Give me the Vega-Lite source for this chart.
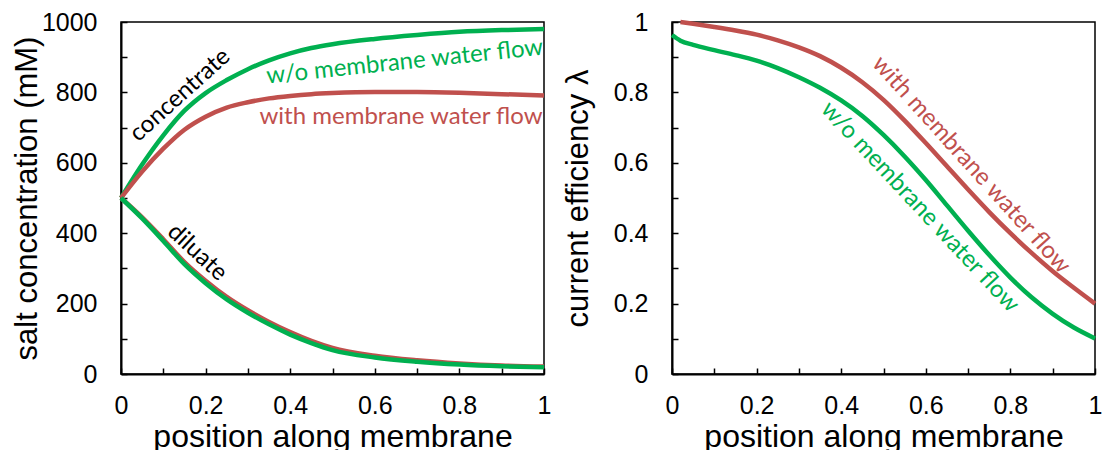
{
  "$schema": "https://vega.github.io/schema/vega-lite/v6.json",
  "padding": {"left": 10, "top": 9, "right": 5, "bottom": 5},
  "background": "white",
  "spacing": 7,
  "config": {
    "view": {"stroke": "black", "strokeWidth": 1.5},
    "axis": {
      "domainColor": "black", "domainWidth": 2,
      "tickColor": "black", "tickWidth": 1.5, "tickSize": -6,
      "labelFont": "Liberation Sans", "labelFontSize": 25, "labelColor": "black",
      "labelFlush": false, "labelOverlap": false, "labelBound": false,
      "titleFont": "Liberation Sans", "titleFontSize": 30, "titleFontWeight": "normal", "titleColor": "black",
      "grid": false
    },
    "axisY": {"titleFontSize": 31, "labelPadding": 30, "titleX": -94, "titleY": 176, "titleBaseline": "middle", "titleAngle": -90, "titleAlign": "center"},
    "axisX": {"titleFontSize": 32, "labelPadding": 25, "titleY": 72, "titleBaseline": "alphabetic", "titleX": 211.5, "titleAlign": "center"}
  },
  "datasets": {
    "conc": [
      {"pos": 0, "conc": 500, "flow": "w/o membrane water flow", "stream": "concentrate"},
      {"pos": 0.05, "conc": 595, "flow": "w/o membrane water flow", "stream": "concentrate"},
      {"pos": 0.1, "conc": 678, "flow": "w/o membrane water flow", "stream": "concentrate"},
      {"pos": 0.15, "conc": 748, "flow": "w/o membrane water flow", "stream": "concentrate"},
      {"pos": 0.2, "conc": 798, "flow": "w/o membrane water flow", "stream": "concentrate"},
      {"pos": 0.25, "conc": 835, "flow": "w/o membrane water flow", "stream": "concentrate"},
      {"pos": 0.3, "conc": 866, "flow": "w/o membrane water flow", "stream": "concentrate"},
      {"pos": 0.35, "conc": 891, "flow": "w/o membrane water flow", "stream": "concentrate"},
      {"pos": 0.4, "conc": 911, "flow": "w/o membrane water flow", "stream": "concentrate"},
      {"pos": 0.45, "conc": 926, "flow": "w/o membrane water flow", "stream": "concentrate"},
      {"pos": 0.5, "conc": 937, "flow": "w/o membrane water flow", "stream": "concentrate"},
      {"pos": 0.6, "conc": 952, "flow": "w/o membrane water flow", "stream": "concentrate"},
      {"pos": 0.7, "conc": 963, "flow": "w/o membrane water flow", "stream": "concentrate"},
      {"pos": 0.8, "conc": 972, "flow": "w/o membrane water flow", "stream": "concentrate"},
      {"pos": 0.9, "conc": 977, "flow": "w/o membrane water flow", "stream": "concentrate"},
      {"pos": 1.0, "conc": 980, "flow": "w/o membrane water flow", "stream": "concentrate"},
      {"pos": 0, "conc": 500, "flow": "with membrane water flow", "stream": "concentrate"},
      {"pos": 0.05, "conc": 575, "flow": "with membrane water flow", "stream": "concentrate"},
      {"pos": 0.1, "conc": 640, "flow": "with membrane water flow", "stream": "concentrate"},
      {"pos": 0.15, "conc": 694, "flow": "with membrane water flow", "stream": "concentrate"},
      {"pos": 0.2, "conc": 731, "flow": "with membrane water flow", "stream": "concentrate"},
      {"pos": 0.25, "conc": 757, "flow": "with membrane water flow", "stream": "concentrate"},
      {"pos": 0.3, "conc": 772, "flow": "with membrane water flow", "stream": "concentrate"},
      {"pos": 0.35, "conc": 783, "flow": "with membrane water flow", "stream": "concentrate"},
      {"pos": 0.4, "conc": 790, "flow": "with membrane water flow", "stream": "concentrate"},
      {"pos": 0.45, "conc": 795, "flow": "with membrane water flow", "stream": "concentrate"},
      {"pos": 0.5, "conc": 798, "flow": "with membrane water flow", "stream": "concentrate"},
      {"pos": 0.6, "conc": 801, "flow": "with membrane water flow", "stream": "concentrate"},
      {"pos": 0.7, "conc": 801, "flow": "with membrane water flow", "stream": "concentrate"},
      {"pos": 0.8, "conc": 799, "flow": "with membrane water flow", "stream": "concentrate"},
      {"pos": 0.9, "conc": 795, "flow": "with membrane water flow", "stream": "concentrate"},
      {"pos": 1.0, "conc": 791, "flow": "with membrane water flow", "stream": "concentrate"},
      {"pos": 0, "conc": 500, "flow": "with membrane water flow", "stream": "diluate"},
      {"pos": 0.05, "conc": 445, "flow": "with membrane water flow", "stream": "diluate"},
      {"pos": 0.1, "conc": 383, "flow": "with membrane water flow", "stream": "diluate"},
      {"pos": 0.15, "conc": 318, "flow": "with membrane water flow", "stream": "diluate"},
      {"pos": 0.2, "conc": 265, "flow": "with membrane water flow", "stream": "diluate"},
      {"pos": 0.25, "conc": 219, "flow": "with membrane water flow", "stream": "diluate"},
      {"pos": 0.3, "conc": 181, "flow": "with membrane water flow", "stream": "diluate"},
      {"pos": 0.35, "conc": 148, "flow": "with membrane water flow", "stream": "diluate"},
      {"pos": 0.4, "conc": 119, "flow": "with membrane water flow", "stream": "diluate"},
      {"pos": 0.45, "conc": 94, "flow": "with membrane water flow", "stream": "diluate"},
      {"pos": 0.5, "conc": 74, "flow": "with membrane water flow", "stream": "diluate"},
      {"pos": 0.6, "conc": 52, "flow": "with membrane water flow", "stream": "diluate"},
      {"pos": 0.7, "conc": 39, "flow": "with membrane water flow", "stream": "diluate"},
      {"pos": 0.8, "conc": 30, "flow": "with membrane water flow", "stream": "diluate"},
      {"pos": 0.9, "conc": 24, "flow": "with membrane water flow", "stream": "diluate"},
      {"pos": 1.0, "conc": 21, "flow": "with membrane water flow", "stream": "diluate"},
      {"pos": 0, "conc": 500, "flow": "w/o membrane water flow", "stream": "diluate"},
      {"pos": 0.05, "conc": 442, "flow": "w/o membrane water flow", "stream": "diluate"},
      {"pos": 0.1, "conc": 378, "flow": "w/o membrane water flow", "stream": "diluate"},
      {"pos": 0.15, "conc": 312, "flow": "w/o membrane water flow", "stream": "diluate"},
      {"pos": 0.2, "conc": 258, "flow": "w/o membrane water flow", "stream": "diluate"},
      {"pos": 0.25, "conc": 212, "flow": "w/o membrane water flow", "stream": "diluate"},
      {"pos": 0.3, "conc": 174, "flow": "w/o membrane water flow", "stream": "diluate"},
      {"pos": 0.35, "conc": 141, "flow": "w/o membrane water flow", "stream": "diluate"},
      {"pos": 0.4, "conc": 112, "flow": "w/o membrane water flow", "stream": "diluate"},
      {"pos": 0.45, "conc": 88, "flow": "w/o membrane water flow", "stream": "diluate"},
      {"pos": 0.5, "conc": 68, "flow": "w/o membrane water flow", "stream": "diluate"},
      {"pos": 0.6, "conc": 47, "flow": "w/o membrane water flow", "stream": "diluate"},
      {"pos": 0.7, "conc": 35, "flow": "w/o membrane water flow", "stream": "diluate"},
      {"pos": 0.8, "conc": 27, "flow": "w/o membrane water flow", "stream": "diluate"},
      {"pos": 0.9, "conc": 22, "flow": "w/o membrane water flow", "stream": "diluate"},
      {"pos": 1.0, "conc": 19, "flow": "w/o membrane water flow", "stream": "diluate"}
    ],
    "eff": [
      {"pos": 0.02, "eff": 1.0, "flow": "with membrane water flow"},
      {"pos": 0.05, "eff": 0.995, "flow": "with membrane water flow"},
      {"pos": 0.1, "eff": 0.986, "flow": "with membrane water flow"},
      {"pos": 0.15, "eff": 0.976, "flow": "with membrane water flow"},
      {"pos": 0.2, "eff": 0.964, "flow": "with membrane water flow"},
      {"pos": 0.25, "eff": 0.948, "flow": "with membrane water flow"},
      {"pos": 0.3, "eff": 0.928, "flow": "with membrane water flow"},
      {"pos": 0.35, "eff": 0.903, "flow": "with membrane water flow"},
      {"pos": 0.4, "eff": 0.87, "flow": "with membrane water flow"},
      {"pos": 0.45, "eff": 0.829, "flow": "with membrane water flow"},
      {"pos": 0.5, "eff": 0.779, "flow": "with membrane water flow"},
      {"pos": 0.55, "eff": 0.72, "flow": "with membrane water flow"},
      {"pos": 0.6, "eff": 0.656, "flow": "with membrane water flow"},
      {"pos": 0.65, "eff": 0.59, "flow": "with membrane water flow"},
      {"pos": 0.7, "eff": 0.524, "flow": "with membrane water flow"},
      {"pos": 0.75, "eff": 0.46, "flow": "with membrane water flow"},
      {"pos": 0.8, "eff": 0.4, "flow": "with membrane water flow"},
      {"pos": 0.85, "eff": 0.344, "flow": "with membrane water flow"},
      {"pos": 0.9, "eff": 0.292, "flow": "with membrane water flow"},
      {"pos": 0.95, "eff": 0.245, "flow": "with membrane water flow"},
      {"pos": 1.0, "eff": 0.2, "flow": "with membrane water flow"},
      {"pos": 0, "eff": 0.963, "flow": "w/o membrane water flow"},
      {"pos": 0.02, "eff": 0.947, "flow": "w/o membrane water flow"},
      {"pos": 0.05, "eff": 0.935, "flow": "w/o membrane water flow"},
      {"pos": 0.1, "eff": 0.92, "flow": "w/o membrane water flow"},
      {"pos": 0.15, "eff": 0.906, "flow": "w/o membrane water flow"},
      {"pos": 0.2, "eff": 0.89, "flow": "w/o membrane water flow"},
      {"pos": 0.25, "eff": 0.869, "flow": "w/o membrane water flow"},
      {"pos": 0.3, "eff": 0.843, "flow": "w/o membrane water flow"},
      {"pos": 0.35, "eff": 0.813, "flow": "w/o membrane water flow"},
      {"pos": 0.4, "eff": 0.777, "flow": "w/o membrane water flow"},
      {"pos": 0.45, "eff": 0.733, "flow": "w/o membrane water flow"},
      {"pos": 0.5, "eff": 0.679, "flow": "w/o membrane water flow"},
      {"pos": 0.55, "eff": 0.618, "flow": "w/o membrane water flow"},
      {"pos": 0.6, "eff": 0.551, "flow": "w/o membrane water flow"},
      {"pos": 0.65, "eff": 0.479, "flow": "w/o membrane water flow"},
      {"pos": 0.7, "eff": 0.407, "flow": "w/o membrane water flow"},
      {"pos": 0.75, "eff": 0.338, "flow": "w/o membrane water flow"},
      {"pos": 0.8, "eff": 0.274, "flow": "w/o membrane water flow"},
      {"pos": 0.85, "eff": 0.218, "flow": "w/o membrane water flow"},
      {"pos": 0.9, "eff": 0.171, "flow": "w/o membrane water flow"},
      {"pos": 0.95, "eff": 0.132, "flow": "w/o membrane water flow"},
      {"pos": 1.0, "eff": 0.101, "flow": "w/o membrane water flow"}
    ],
    "notesLeft": [
      {"pos": 0.14, "conc": 792, "text": "concentrate"},
      {"pos": 0.671, "conc": 886, "text": "w/o membrane water flow"},
      {"pos": 0.662, "conc": 730, "text": "with membrane water flow"},
      {"pos": 0.18, "conc": 345, "text": "diluate"}
    ],
    "notesRight": [
      {"pos": 0.707, "eff": 0.594, "text": "with membrane water flow"},
      {"pos": 0.586, "eff": 0.474, "text": "w/o membrane water flow"}
    ]
  },
  "hconcat": [
    {
      "width": 423,
      "height": 352,
      "encoding": {
        "x": {"field": "pos", "type": "quantitative", "scale": {"domain": [0, 1], "nice": false},
              "axis": {"title": "position along membrane", "values": [0, 0.1, 0.2, 0.3, 0.4, 0.5, 0.6, 0.7, 0.8, 0.9, 1],
                       "labelExpr": "round(datum.value * 10) % 2 == 0 ? format(datum.value, '~g') : ''"}},
        "y": {"field": "conc", "type": "quantitative", "scale": {"domain": [0, 1000], "nice": false},
              "axis": {"title": "salt concentration (mM)", "values": [0, 100, 200, 300, 400, 500, 600, 700, 800, 900, 1000],
                       "labelExpr": "datum.value % 200 == 0 ? format(datum.value, 'd') : ''"}}
      },
      "layer": [
        {
          "data": {"name": "conc"},
          "transform": [{"filter": "datum.stream == 'concentrate' && datum.flow == 'w/o membrane water flow'"}],
          "mark": {"type": "line", "strokeWidth": 4.5, "interpolate": "monotone", "color": "#00B050"},
          "encoding": {}
        },
        {
          "data": {"name": "conc"},
          "transform": [{"filter": "datum.stream == 'concentrate' && datum.flow == 'with membrane water flow'"}],
          "mark": {"type": "line", "strokeWidth": 4.5, "interpolate": "monotone", "color": "#C0504D"},
          "encoding": {}
        },
        {
          "data": {"name": "conc"},
          "transform": [{"filter": "datum.stream == 'diluate' && datum.flow == 'with membrane water flow'"}],
          "mark": {"type": "line", "strokeWidth": 4.5, "interpolate": "monotone", "color": "#C0504D"},
          "encoding": {}
        },
        {
          "data": {"name": "conc"},
          "transform": [{"filter": "datum.stream == 'diluate' && datum.flow == 'w/o membrane water flow'"}],
          "mark": {"type": "line", "strokeWidth": 4.5, "interpolate": "monotone", "color": "#00B050"},
          "encoding": {}
        },
        {
          "data": {"name": "notesLeft"},
          "transform": [{"filter": "datum.text == 'concentrate'"}],
          "mark": {"type": "text", "font": "Lato", "fontSize": 24, "color": "black", "angle": -42, "align": "center", "baseline": "middle"},
          "encoding": {"text": {"field": "text"}}
        },
        {
          "data": {"name": "notesLeft"},
          "transform": [{"filter": "datum.text == 'diluate'"}],
          "mark": {"type": "text", "font": "Lato", "fontSize": 24, "color": "black", "angle": 43, "align": "center", "baseline": "middle"},
          "encoding": {"text": {"field": "text"}}
        },
        {
          "data": {"name": "notesLeft"},
          "transform": [{"filter": "datum.text == 'w/o membrane water flow'"}],
          "mark": {"type": "text", "font": "Lato", "fontSize": 24, "color": "#00B050", "angle": -6, "align": "center", "baseline": "middle"},
          "encoding": {"text": {"field": "text"}}
        },
        {
          "data": {"name": "notesLeft"},
          "transform": [{"filter": "datum.text == 'with membrane water flow'"}],
          "mark": {"type": "text", "font": "Lato", "fontSize": 24, "color": "#C0504D", "angle": 0, "align": "center", "baseline": "middle"},
          "encoding": {"text": {"field": "text"}}
        }
      ]
    },
    {
      "width": 423,
      "height": 352,
      "encoding": {
        "x": {"field": "pos", "type": "quantitative", "scale": {"domain": [0, 1], "nice": false},
              "axis": {"title": "position along membrane", "values": [0, 0.1, 0.2, 0.3, 0.4, 0.5, 0.6, 0.7, 0.8, 0.9, 1],
                       "labelExpr": "round(datum.value * 10) % 2 == 0 ? format(datum.value, '~g') : ''"}},
        "y": {"field": "eff", "type": "quantitative", "scale": {"domain": [0, 1], "nice": false},
              "axis": {"title": "current efficiency λ", "values": [0, 0.1, 0.2, 0.3, 0.4, 0.5, 0.6, 0.7, 0.8, 0.9, 1],
                       "labelExpr": "round(datum.value * 10) % 2 == 0 ? format(datum.value, '~g') : ''"}}
      },
      "layer": [
        {
          "data": {"name": "eff"},
          "transform": [{"filter": "datum.flow == 'with membrane water flow'"}],
          "mark": {"type": "line", "strokeWidth": 4.5, "interpolate": "monotone", "color": "#C0504D"},
          "encoding": {}
        },
        {
          "data": {"name": "eff"},
          "transform": [{"filter": "datum.flow == 'w/o membrane water flow'"}],
          "mark": {"type": "line", "strokeWidth": 4.5, "interpolate": "monotone", "color": "#00B050"},
          "encoding": {}
        },
        {
          "data": {"name": "notesRight"},
          "transform": [{"filter": "datum.text == 'with membrane water flow'"}],
          "mark": {"type": "text", "font": "Lato", "fontSize": 24, "color": "#C0504D", "angle": 48, "align": "center", "baseline": "middle"},
          "encoding": {"text": {"field": "text"}}
        },
        {
          "data": {"name": "notesRight"},
          "transform": [{"filter": "datum.text == 'w/o membrane water flow'"}],
          "mark": {"type": "text", "font": "Lato", "fontSize": 24, "color": "#00B050", "angle": 47, "align": "center", "baseline": "middle"},
          "encoding": {"text": {"field": "text"}}
        }
      ]
    }
  ]
}
